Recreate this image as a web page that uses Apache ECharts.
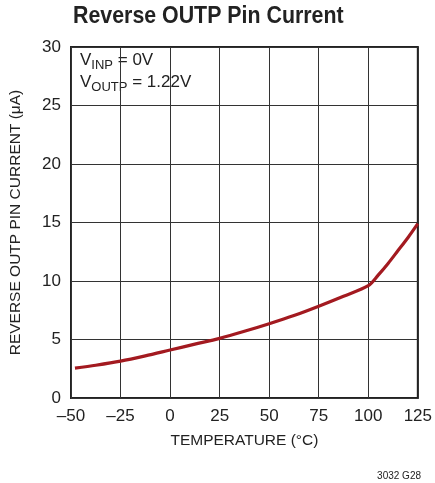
<!DOCTYPE html>
<html>
<head>
<meta charset="utf-8">
<script src="https://cdn.jsdelivr.net/npm/echarts@6/dist/echarts.min.js"></script>
<style>
  body { margin: 0; background: #fff; }
  #main { width: 435px; height: 483px; }
</style>
</head>
<body>
<div id="main"></div>
<script>
// data
var temps = [-48, -37.5, -25, -12.5, 0, 12.5, 25, 37.5, 50, 62.5, 75, 87.5, 100, 105, 110, 115, 120, 125];
var current = [2.55, 2.8, 3.15, 3.6, 4.1, 4.6, 5.1, 5.7, 6.35, 7.05, 7.85, 8.7, 9.6, 10.5, 11.5, 12.6, 13.7, 14.9];

var xTicks = [-50, -25, 0, 25, 50, 75, 100, 125];
var yTicks = [0, 5, 10, 15, 20, 25, 30];

var font = '"Liberation Sans", Arial, sans-serif';
var myChart = echarts.init(document.getElementById('main'));

var option = {
  animation: false,
  grid: { left: 71, right: 13, top: 47, bottom: 85, show: true, borderColor: '#222', borderWidth: 2 },
  xAxis: {
    type: 'value', min: xTicks[0], max: xTicks[xTicks.length - 1], interval: 25,
    axisLine: { show: false },
    axisTick: { show: false },
    splitLine: { lineStyle: { color: '#333', width: 1 } },
    axisLabel: {
      fontFamily: font, fontSize: 17, color: '#222', margin: 10,
      formatter: function (v) { return String(v).replace('-', '\u2013'); }
    },
    name: 'TEMPERATURE (°C)', nameLocation: 'middle', nameGap: 35,
    nameTextStyle: { fontFamily: font, fontSize: 15.5, color: '#222' }
  },
  yAxis: {
    type: 'value', min: yTicks[0], max: yTicks[yTicks.length - 1], interval: 5,
    axisLine: { show: false },
    axisTick: { show: false },
    splitLine: { lineStyle: { color: '#333', width: 1 } },
    axisLabel: { fontFamily: font, fontSize: 17, color: '#222', margin: 10 },
    name: 'REVERSE OUTP PIN CURRENT (μA)', nameLocation: 'middle', nameGap: 47,
    nameTextStyle: { fontFamily: font, fontSize: 15.5, color: '#222' }
  },
  graphic: [
    {
      type: 'text', left: 73, top: 4, scaleX: 0.89,
      style: { text: 'Reverse OUTP Pin Current', fontFamily: font, fontWeight: 'bold', fontSize: 24, fill: '#222' }
    },
    {
      type: 'text', left: 80, top: 52,
      style: {
        text: '{n|V}{s|INP}{n| = 0V}\n{n|V}{s|OUTP}{n| = 1.22V}',
        rich: {
          n: { fontFamily: font, fontSize: 17, fill: '#222', lineHeight: 22 },
          s: { fontFamily: font, fontSize: 13, fill: '#222', lineHeight: 22, verticalAlign: 'bottom', padding: [6, 0, 0, 0] }
        }
      }
    },
    {
      type: 'text', right: 14, top: 471,
      style: { text: '3032 G28', fontFamily: font, fontSize: 10, fill: '#222' }
    }
  ],
  series: [{
    type: 'line',
    data: temps.map(function (t, i) { return [t, current[i]]; }),
    smooth: 0.3,
    showSymbol: false,
    lineStyle: { color: '#a31a20', width: 3.2 }
  }]
};
myChart.setOption(option);
</script>
</body>
</html>
